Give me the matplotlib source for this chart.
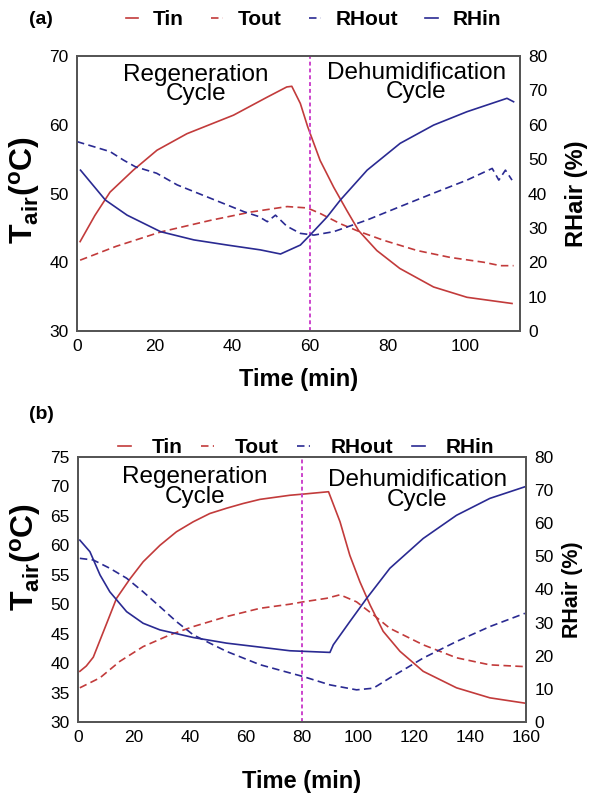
import numpy as np
import matplotlib
matplotlib.use('Agg')
import matplotlib.pyplot as plt

plt.rcParams['font.family'] = ['Liberation Sans', 'DejaVu Sans']
plt.rcParams['mathtext.fontset'] = 'custom'
plt.rcParams['mathtext.rm'] = 'Liberation Sans'
plt.rcParams['mathtext.bf'] = 'Liberation Sans:bold'

# ---- panel (a) data ----
a_tin_t = [0.8, 4.6, 8.5, 14.5, 20.6, 28.3, 40.3, 48.9, 54.0, 55.3, 57.5, 59.4, 62.6,
           66.1, 69.5, 72.5, 77.2, 83.1, 91.8, 100.4, 112.0]
a_tin = [43.0, 46.8, 50.2, 53.4, 56.3, 58.7, 61.4, 64.0, 65.5, 65.6, 63.1, 59.7, 54.8,
         50.9, 47.5, 44.6, 41.7, 39.1, 36.4, 34.9, 34.0]

a_tout_t = [0.8, 10, 21.5, 34.4, 44.7, 54.1, 59.3, 62.6, 67.8, 72.5, 78.9, 87.6, 96.1,
            104.7, 109.0, 112.4]
a_tout = [40.3, 42.3, 44.4, 46.1, 47.3, 48.1, 47.9, 47.1, 45.6, 44.5, 43.2, 41.7, 40.7,
          40.0, 39.5, 39.5]

a_rhout_t = [0, 8.5, 12, 15, 20.5, 25.8, 34.4, 43, 46.8, 49, 51.1, 54, 57.5, 61, 66.1,
             74.7, 83.2, 91.8, 100.4, 106.9, 108.6, 110.3, 112]
a_rhout = [55.1, 52.2, 49.7, 47.8, 45.9, 42.5, 38.6, 34.7, 33.3, 31.8, 33.7, 30.5, 28.4,
           27.9, 28.9, 32.3, 36.2, 40.1, 43.9, 47.3, 43.9, 46.8, 43.9]

a_rhin_t = [0.9, 7.3, 12.9, 21.5, 30.1, 38.7, 47.2, 52.4, 57.5, 60.0, 64.4, 67.8, 74.7,
            83.2, 91.8, 100.4, 110.7, 112.4]
a_rhin = [46.8, 38.1, 33.7, 28.9, 26.5, 25.0, 23.6, 22.4, 25.0, 27.9, 33.2, 38.1, 46.8,
          54.6, 59.9, 63.8, 67.7, 66.7]

# ---- panel (b) data ----
b_tin_t = [0.7, 3, 5.5, 8, 10.5, 13.8, 18.6, 23.3, 29.3, 35.2, 41.2, 47.1, 53.1, 59, 65,
           75.7, 80.5, 89.5, 93.6, 97.1, 100.7, 104.3, 109, 115, 123.3, 135.2, 147.1, 159.6]
b_tin = [38.6, 39.5, 41.0, 44.0, 47.0, 51.0, 54.3, 57.2, 60.0, 62.3, 64.0, 65.4, 66.3,
         67.1, 67.8, 68.5, 68.7, 69.1, 64.0, 58.3, 53.8, 49.9, 45.4, 42.0, 38.6, 35.8,
         34.1, 33.2]

b_tout_t = [0.7, 7.9, 15, 23.3, 32.9, 41.2, 53.1, 65, 75.7, 80.5, 88.8, 93.6, 99.5, 105.5,
            111.4, 123.3, 135.2, 147.1, 159.6]
b_tout = [35.8, 37.5, 40.3, 42.8, 44.8, 46.2, 47.9, 49.3, 50.0, 50.4, 51.0, 51.6, 50.4,
          48.2, 45.9, 43.1, 40.9, 39.7, 39.4]

b_rhout_t = [0.7, 5.5, 11.4, 17.4, 23.3, 29.3, 35.2, 41.2, 47.1, 53.1, 65, 75.7, 80.5, 90,
             99.5, 105.5, 111.4, 117.4, 123.3, 135.2, 147.1, 159.6]
b_rhout = [49.4, 48.9, 46.4, 43.4, 39.3, 34.8, 30.3, 26.3, 23.8, 21.3, 17.3, 14.8, 13.7,
           11.2, 9.7, 10.2, 13.3, 16.3, 19.3, 24.3, 28.8, 32.8]

b_rhin_t = [0.7, 4.3, 7.9, 11.4, 17.4, 23.3, 29.3, 41.2, 53.1, 65, 75.7, 90, 91.2, 97.1,
            103.1, 111.4, 123.3, 135.2, 147.1, 159.6]
b_rhin = [54.9, 51.4, 44.4, 39.3, 33.3, 29.8, 27.8, 25.5, 23.8, 22.6, 21.5, 21.0, 23.3,
          30.3, 37.3, 46.4, 55.4, 62.4, 67.5, 71.0]

RED = '#c23b3b'
BLUE = '#2a2a92'
MAG = '#cc44cc'
DASH = (4.5, 2.6)


def draw_panel(ax, data, xlim, xticks, tlim, tticks, switch_t, t_label_y, rh_size, rh_x,
               xlabel_y, regen_pos, dehum_pos):
    tin_t, tin, tout_t, tout, rhout_t, rhout, rhin_t, rhin = data
    ax2 = ax.twinx()
    l1, = ax.plot(tin_t, tin, color=RED, lw=1.2)
    l2, = ax.plot(tout_t, tout, color=RED, lw=1.2, dashes=DASH)
    l3, = ax2.plot(rhout_t, rhout, color=BLUE, lw=1.2, dashes=DASH)
    l4, = ax2.plot(rhin_t, rhin, color=BLUE, lw=1.2)
    ax.axvline(switch_t, color=MAG, lw=1.4, dashes=(2, 1.5))

    ax.set_xlim(*xlim)
    ax.set_xticks(xticks)
    ax.set_ylim(*tlim)
    ax.set_yticks(tticks)
    ax2.set_ylim(0, 80)
    ax2.set_yticks(np.arange(0, 81, 10))
    for a in (ax, ax2):
        a.tick_params(length=0, labelsize=12.5, pad=6)
        for s in a.spines.values():
            s.set_color('#555555')
            s.set_linewidth(1.3)

    ax.set_xlabel('Time (min)', fontsize=17, fontweight='bold')
    ax.xaxis.label.set_va('center')
    ax.xaxis.set_label_coords(0.5, xlabel_y)

    ax.set_ylabel(r'$\mathbf{T_{air}(^{o}C)}$', fontsize=23)
    ax.yaxis.label.set_va('center')
    ax.yaxis.set_label_coords(-0.118, t_label_y)

    ax2.set_ylabel('RHair (%)', fontsize=rh_size, fontweight='bold')
    ax2.yaxis.label.set_va('center')
    ax2.yaxis.set_label_coords(rh_x, 0.5)

    ax.text(regen_pos[0], regen_pos[1], 'Regeneration\nCycle', transform=ax.transAxes,
            ha='center', va='center', fontsize=17.5, linespacing=0.85)
    ax.text(dehum_pos[0], dehum_pos[1], 'Dehumidification\nCycle', transform=ax.transAxes,
            ha='center', va='center', fontsize=17.5, linespacing=0.85)
    return [l1, l2, l3, l4]


fig = plt.figure(figsize=(5.9, 7.96), dpi=100)
ax_a = fig.add_axes([0.1305, 0.5842, 0.7505, 0.3454])
ax_b = fig.add_axes([0.132, 0.0930, 0.7595, 0.3329])

labels = ['Tin', 'Tout', 'RHout', 'RHin']

h = draw_panel(ax_a, (a_tin_t, a_tin, a_tout_t, a_tout, a_rhout_t, a_rhout, a_rhin_t, a_rhin),
               (0, 114), np.arange(0, 101, 20), (30, 70), np.arange(30, 71, 10), 60,
               0.513, 17, 1.128, -0.175, (0.269, 0.896), (0.766, 0.904))
fig.legend(h, labels, loc='center', bbox_to_anchor=(0.531, 0.975), ncol=4, frameon=False,
           handlelength=0.6, handletextpad=0.7, columnspacing=1.3,
           prop={'weight': 'bold', 'size': 15})

h = draw_panel(ax_b, (b_tin_t, b_tin, b_tout_t, b_tout, b_rhout_t, b_rhout, b_rhin_t, b_rhin),
               (0, 160), np.arange(0, 161, 20), (30, 75), np.arange(30, 76, 5), 80,
               0.623, 15.5, 1.103, -0.226, (0.261, 0.887), (0.757, 0.875))
fig.legend(h, labels, loc='center', bbox_to_anchor=(0.519, 0.438), ncol=4, frameon=False,
           handlelength=0.6, handletextpad=1.0, columnspacing=0.9,
           prop={'weight': 'bold', 'size': 15})

fig.text(0.07, 0.975, '(a)', fontsize=14, fontweight='bold', ha='center', va='center')
fig.text(0.07, 0.479, '(b)', fontsize=14, fontweight='bold', ha='center', va='center')

fig.savefig('out.png', dpi=100)
